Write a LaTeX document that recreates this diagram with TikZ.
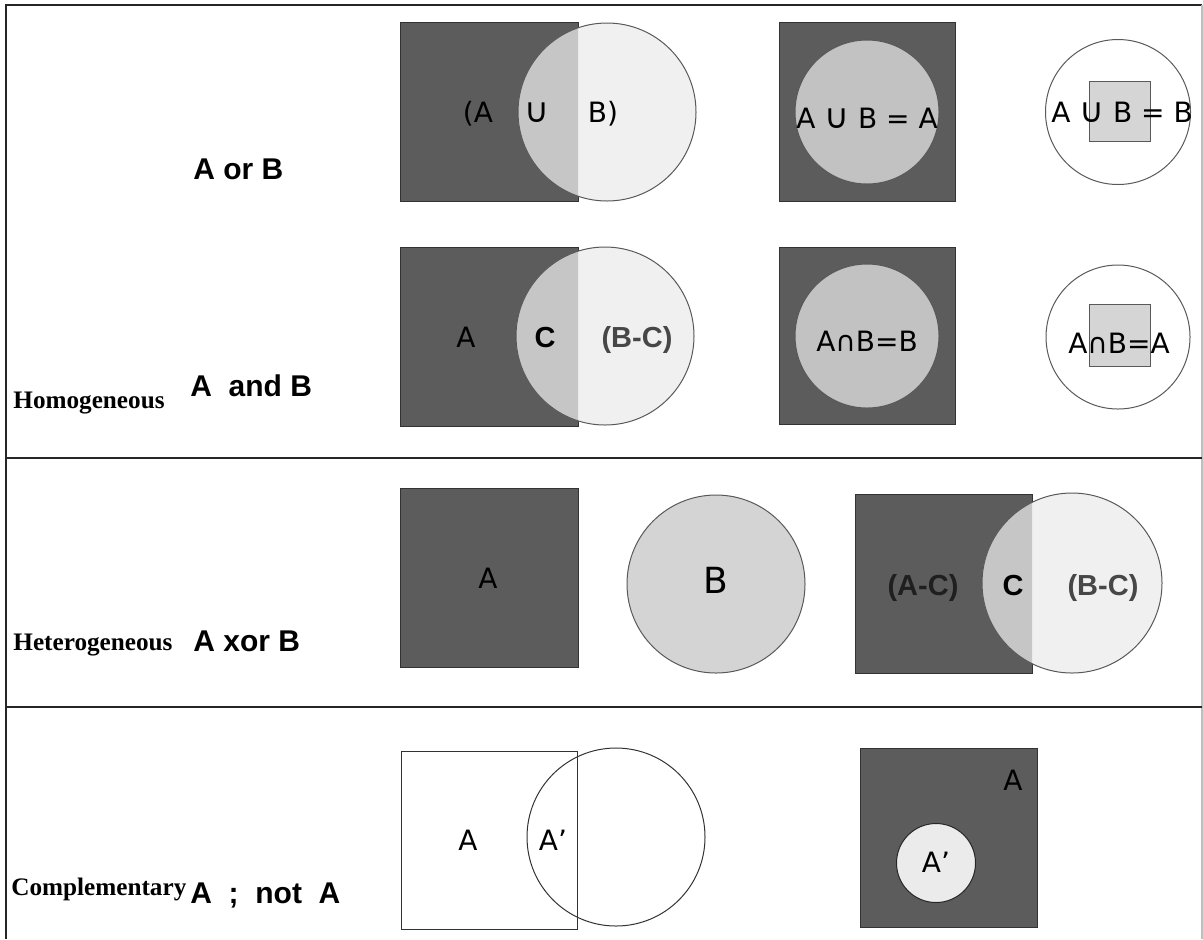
\documentclass[tikz,border=0pt]{standalone}
\usepackage{fontspec}
\setmainfont{Liberation Serif}
\setsansfont{Liberation Sans}
\newfontfamily\setfont{DejaVu Sans}
\usepackage{xcolor}
\usetikzlibrary{positioning}

\definecolor{setdark}{HTML}{5C5C5C}
\definecolor{setlight}{HTML}{F0F0F0}
\definecolor{setoverlap}{HTML}{C6C6C6}
\definecolor{setmid}{HTML}{C2C2C2}
\definecolor{setsmall}{HTML}{D5D5D5}
\definecolor{setB}{HTML}{D4D4D4}
\definecolor{setnot}{HTML}{EBEBEB}

% union sign as tall as the letters
\newcommand\setunion{{\fontsize{17}{17}\selectfont ∪}}

\begin{document}
\begin{tikzpicture}[x=0.5pt, y=-0.5pt,
	setbox/.style={fill=setdark, draw=black!80, line width=0.5pt},
	setline/.style={draw=black!65, line width=0.5pt},
	frameline/.style={draw=black!85, line width=0.9pt},
	casetext/.style={font=\bfseries\fontsize{12.6}{14}\selectfont, anchor=base west, inner sep=0pt},
	optext/.style={font=\sffamily\bfseries\fontsize{15}{17}\selectfont, anchor=base west, inner sep=0pt},
	settext/.style={font=\setfont\fontsize{14}{16}\selectfont, anchor=base},
	parttext/.style={font=\sffamily\bfseries\fontsize{14.5}{16}\selectfont, anchor=base}
	]
	\useasboundingbox (0,0) rectangle (1203,939);
	
	%==================== frame ====================
	\draw[frameline] (6,939) -- (6,5) -- (1202,5);
	\draw[black!25, line width=0.6pt] (1202,5) -- (1202,939);
	\draw[frameline] (6,458) -- (1202,458);
	\draw[frameline] (6,707) -- (1202,707);
	
	%==================== overlapping pairs ====================
	\foreach \rx/\ry/\rw/\cx/\cy/\r in {400/22/178/607/112/89, 400/247/178/605/336/89, 855/494/177/1072/583/90} {
		\draw[setbox] (\rx,\ry) rectangle ++(\rw,179);
		\fill[setlight] (\cx,\cy) circle[radius=\r];
		\begin{scope}
			\clip (\rx,\ry) rectangle ++(\rw,179);
			\fill[setoverlap] (\cx,\cy) circle[radius=\r];
		\end{scope}
		\draw[setline] (\cx,\cy) circle[radius=\r];
	}
	
	%==================== A or B ====================
	\node[optext] (orlabel) at (193,179) {A or B};
	\node[settext] (orA) at (478,122) {(A};
	\node[settext] (orU) at (537,122) {\setunion};
	\node[settext] (orB) at (603,122) {B)};
	
	\draw[setbox] (779,22) rectangle (955,201);
	\draw[setline, fill=setmid] (867,112) circle[radius=72];
	\node[settext] (orAeq) at (867,128) {A \setunion\ B = A};
	
	\draw[setline] (1118,112) circle[radius=72.5];
	\draw[setline, fill=setsmall] (1089,81) rectangle (1150,141);
	\node[settext] (orBeq) at (1122,122) {A \setunion\ B = B};
	
	%==================== A and B ====================
	\node[casetext] (homo) at (13,408) {Homogeneous};
	\node[optext] (andlabel) at (190,396) {A~ and B};
	\node[settext] (andA) at (466,347) {A};
	\node[parttext] (andC) at (545,347) {C};
	\node[parttext, text=black!72] (andBC) at (637,347) {(B-C)};
	
	\draw[setbox] (779,247) rectangle (955,424);
	\draw[setline, fill=setmid] (867,336) circle[radius=72];
	\node[settext] (andBeq) at (867,351) {A∩B=B};
	
	\draw[setline] (1118,337) circle[radius=72];
	\draw[setline, fill=setsmall] (1089,304) rectangle (1150,366);
	\node[settext] (andAeq) at (1119,353) {A∩B=A};
	
	%==================== A xor B ====================
	\node[casetext] (hetero) at (13,650) {Heterogeneous};
	\node[optext] (xorlabel) at (193,651) {A xor B};
	
	\draw[setbox] (400,488) rectangle (578,667);
	\node[settext] (xorA) at (488,588) {A};
	\draw[setline, fill=setB] (716,584) circle[radius=89];
	\node[settext, font=\setfont\fontsize{18}{20}\selectfont] (xorB) at (716,593) {B};
	
	\node[parttext, text=black!88] (xorAC) at (923,595) {(A-C)};
	\node[parttext] (xorC) at (1013,595) {C};
	\node[parttext, text=black!72] (xorBC) at (1103,595) {(B-C)};
	
	%==================== A ; not A ====================
	\node[casetext] (compl) at (11,895) {Complementary};
	\node[optext] (notlabel) at (190,903) {A ~;~ not~ A};
	
	\draw[setline, draw=black!80] (401,751) rectangle (577,929);
	\draw[setline, draw=black!80] (616,837) circle[radius=89];
	\node[settext] (notA) at (468,850) {A};
	\node[settext] (notAp) at (553,850) {A’};
	
	\draw[setbox] (860,748) rectangle (1037,927);
	\node[settext] (allA) at (1013,790) {A};
	\draw[setline, draw=black!85, fill=setnot] (936,863) circle[radius=39.5];
	\node[settext] (allAp) at (936,872) {A’};
	
\end{tikzpicture}
\end{document}
